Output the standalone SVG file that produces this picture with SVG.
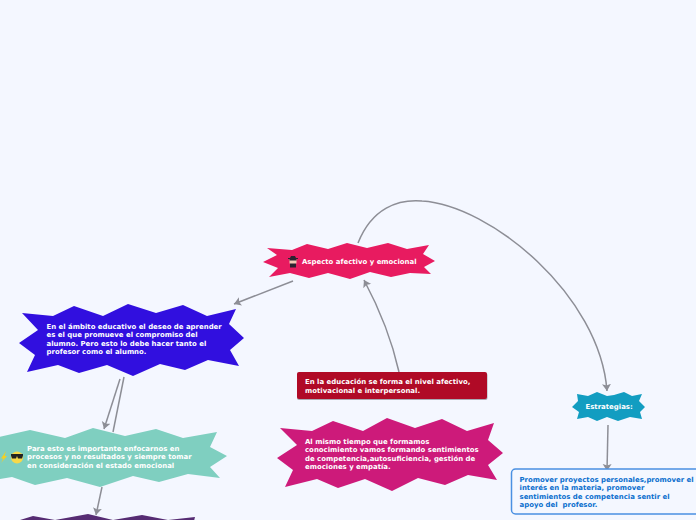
<svg xmlns="http://www.w3.org/2000/svg" width="696" height="520" viewBox="0 0 696 520">
<style>
text{font-family:"DejaVu Sans","Liberation Sans",sans-serif;font-weight:700;font-size:6.95px;fill:#fff;white-space:pre}
.c{fill:none;stroke:#8d8e96;stroke-width:1.5}
#box text{fill:#0b6fce}
</style>
<defs>
<marker id="a" markerUnits="userSpaceOnUse" markerWidth="10" markerHeight="11" refX="7" refY="5.500" orient="auto"><path d="M0 1L7 5.500L0 10L1.500 5.500Z" fill="#8d8e96"/></marker>
</defs>
<rect width="696" height="520" fill="#f4f7ff"/>
<g id="connectors">
<path class="c" marker-end="url(#a)" d="M293 281L234 304"/>
<path class="c" marker-end="url(#a)" d="M399 372C393 345 380 310 364 280"/>
<path class="c" marker-end="url(#a)" d="M358 243C372 208 398 199 422 201C490 205 600 295 607 391"/>
<path class="c" marker-end="url(#a)" d="M120 379L104 429"/>
<path class="c" d="M124 377L113 432"/>
<path class="c" marker-end="url(#a)" d="M102 487L96 515"/>
<path class="c" marker-end="url(#a)" d="M608 425L607 471"/>
</g>
<g id="node-aspecto">
<polygon fill="#e81b60" points="267,248 292,250 307,244 328,249 347,243 367,248 388,243 407,249 429,245 423,254 435,261 424,267 431,274 410,273 391,277 370,272 350,279 328,273 309,278 290,273 269,277 278,268 263,262 277,255"/>
<path fill="#2b2230" d="M288 258h2l1-2h4l1 2h2v1h-10zM290 263h6v4.500h-6z"/>
<rect x="289.500" y="259" width="7" height="4.500" fill="#f3c9b5"/>
<rect x="289.500" y="259" width="7" height="1.500" fill="#2b2230"/>
<text x="302" y="264">Aspecto afectivo y emocional</text>
</g>
<g id="node-ambito">
<polygon fill="#310fdf" points="22,313 53,316 74,306 103,316 128,304 156,313 183,305 207,316 236,309 229,324 244,338 230,350 239,366 208,360 185,370 160,364 133,376 107,365 79,373 58,365 27,372 35,355 19,343 38,330"/>
<text x="46.500" y="328.500">En el ámbito educativo el deseo de aprender</text>
<text x="46.500" y="337">es el que promueve el compromiso del</text>
<text x="46.500" y="345.500">alumno. Pero esto lo debe hacer tanto el</text>
<text x="46.500" y="354">profesor como el alumno.</text>
</g>
<g id="node-enfocarnos">
<polygon fill="#7fcfc0" points="-5,438 30,430 65,438 93,428 125,436 156,429 183,438 217,432 210,447 227,456 210,467 220,478 188,474 159,482 133,476 100,487 67,478 35,485 12,477 -5,480"/>
<path fill="#f5d020" d="M6 451L1 458.500h2.500L1 463L7 456h-2.500Z"/>
<circle cx="17" cy="457.500" r="6" fill="#f7d84a"/>
<path fill="#222" d="M11 454h12v1.500l-1 3h-4l-1-2.500l-1 2.500h-4l-1-3z"/>
<text x="27" y="451">Para esto es importante enfocarnos en</text>
<text x="27" y="459.300">procesos y no resultados y siempre tomar</text>
<text x="27" y="467.700">en consideración el estado emocional</text>
</g>
<g id="node-purple">
<polygon fill="#562c73" points="20,520 33,516 55,520 88,514 113,520 142,515 168,520 195,517 193,525 15,525"/>
</g>
<g id="node-educacion">
<rect x="297" y="373" width="190.500" height="27" rx="2" fill="#a9abb3"/>
<rect x="297" y="372" width="190" height="27" rx="2" fill="#b00a26"/>
<text x="305" y="384">En la educación se forma el nivel afectivo,</text>
<text x="305" y="392.700">motivacional e interpersonal.</text>
</g>
<g id="node-mismo">
<polygon fill="#cd1a7a" points="280,428 312,431 333,421 363,431 387,418 415,428 442,419 467,431 494,423 488,440 503,453 488,465 497,480 468,475 445,485 418,478 392,491 365,479 338,488 317,479 285,487 293,470 277,458 297,445"/>
<text x="305" y="444">Al mismo tiempo que formamos</text>
<text x="305" y="452.300">conocimiento vamos formando sentimientos</text>
<text x="305" y="461">de competencia,autosuficiencia, gestión de</text>
<text x="305" y="469.300">emociones y empatía.</text>
</g>
<g id="node-estrategias">
<polygon fill="#129dc1" points="577,394 588,396 597,392 607,396 614,395 624,392 632,396 642,394 639,401 645,407 640,412 642,419 630,417 618,421 607,417 597,421 588,417 577,419 579,412 572,407 578,401"/>
<text x="585.500" y="409">Estrategias:</text>
</g>
<g id="box">
<rect x="511.500" y="469" width="200" height="45" rx="4" fill="#f4f7ff" stroke="#4a90e2" stroke-width="1.500"/>
<text x="519.500" y="482">Promover proyectos personales,promover el</text>
<text x="519.500" y="490">interés en la materia, promover</text>
<text x="519.500" y="499">sentimientos de competencia sentir el</text>
<text x="519.500" y="507">apoyo del  profesor.</text>
</g>
</svg>
